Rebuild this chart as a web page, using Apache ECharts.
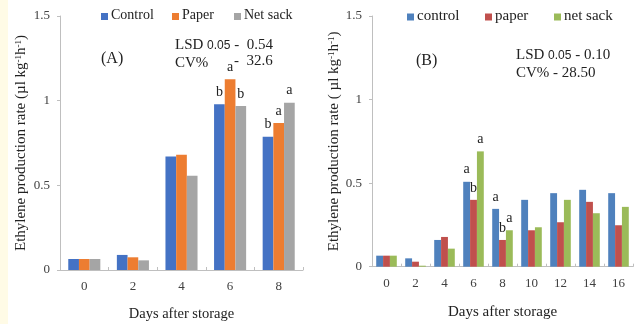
<!DOCTYPE html>
<html><head><meta charset="utf-8">
<script src="https://cdn.jsdelivr.net/npm/echarts@6/dist/echarts.min.js"></script>
<style>html,body{margin:0;padding:0;background:#fff}#c{width:638px;height:324px}</style>
</head><body><div id="c"></div>
<script>
const daysA = ['0','2','4','6','8'];
const controlA = [0.065,0.089,0.67,0.979,0.787];
const paperA   = [0.065,0.075,0.68,1.126,0.868];
const netA     = [0.065,0.057,0.557,0.969,0.988];
const lettersControlA = ['','','','b','b'];
const lettersPaperA   = ['','','','a','a'];
const lettersNetA     = ['','','','b','a'];

const daysB = ['0','2','4','6','8','10','12','14','16'];
const controlB = [0.066,0.05,0.16,0.508,0.346,0.40,0.44,0.46,0.44];
const paperB   = [0.066,0.03,0.178,0.40,0.16,0.218,0.266,0.388,0.248];
const netB     = [0.066,0.006,0.108,0.69,0.218,0.236,0.40,0.32,0.358];
const lettersControlB = ['','','','a','a','','','',''];
const lettersPaperB   = ['','','','b','b','','','',''];
const lettersNetB     = ['','','','a','a','','','',''];

const legendA = ['Control', 'Paper', 'Net sack'];
const legendB = ['control', 'paper', 'net sack'];
const colorsA = ['#4472C4', '#ED7D31', '#A5A5A5'];
const colorsB = ['#4F81BD', '#C0504D', '#9BBB59'];
const yTicks = [0, 0.5, 1, 1.5];

const SERIF = 'Liberation Serif';
const AX = '#BFBFBF';
const TXT = '#404040';

function withLetters(vals, letters) {
  return vals.map((v, i) => letters[i] ? {value: v, label: {show: true, formatter: letters[i]}} : v);
}
function yAxis(gi, gap) {
  return {
    type: 'value', gridIndex: gi, min: yTicks[0], max: yTicks[yTicks.length-1], interval: 0.5,
    axisLine: {show: true, lineStyle: {color: AX}},
    axisTick: {show: true, length: 3, lineStyle: {color: AX}},
    splitLine: {show: false},
    axisLabel: {fontFamily: SERIF, fontSize: 13, color: TXT, margin: 10, formatter: v => String(v)},
    name: gi === 0 ? 'Ethylene production rate (µl kg{sup|-1}h{sup|-1})' : 'Ethylene production rate ( µl kg{sup|-1}h{sup|-1})',
    nameLocation: 'middle', nameGap: gap, nameRotate: 90,
    nameTextStyle: {fontFamily: SERIF, fontSize: 15, color: '#222',
      rich: {sup: {fontFamily: SERIF, fontSize: 9, color: '#222', verticalAlign: 'top', lineHeight: 15}}}
  };
}
function xAxis(gi, data, gap, fs) {
  return {
    type: 'category', gridIndex: gi, data: data,
    axisLine: {show: true, lineStyle: {color: AX}},
    axisTick: {show: true, inside: true, length: 3, lineStyle: {color: AX}},
    axisLabel: {fontFamily: SERIF, fontSize: 13, color: TXT, margin: 10},
    name: 'Days after storage', nameLocation: 'middle', nameGap: gap,
    nameTextStyle: {fontFamily: SERIF, fontSize: fs, color: '#222'}
  };
}
const lbl = {show: false, position: 'top', distance: 5, fontFamily: SERIF, fontSize: 14, color: '#222'};
function bar(name, gi, vals, letters, color, gap) {
  return {
    name: name, type: 'bar', xAxisIndex: gi, yAxisIndex: gi,
    data: withLetters(vals, letters),
    itemStyle: {color: color}, barGap: '0%', barCategoryGap: gap,
    label: lbl, emphasis: {disabled: true}
  };
}
// legend: icon + serif text (legend component text would not take the serif face)
function legendGraphic(names, colors, xs, cy, fs) {
  const out = [];
  names.forEach((n, i) => {
    out.push({type: 'rect', left: xs[i], top: cy - 3.5, shape: {width: 7, height: 7}, style: {fill: colors[i]}, silent: true});
    out.push({type: 'text', left: xs[i] + 10, top: cy - fs / 2 - 1,
      style: {text: n, fontFamily: SERIF, fontSize: fs, fill: '#222'}, silent: true});
  });
  return out;
}

const chart = echarts.init(document.getElementById('c'), null, {renderer: 'canvas'});
chart.setOption({
  animation: false,
  backgroundColor: '#ffffff',
  textStyle: {fontFamily: SERIF},
  grid: [
    {left: 60, top: 16, width: 243, height: 254, outerBoundsMode: 'none', containLabel: false},
    {left: 372, top: 16, width: 261, height: 250.7, outerBoundsMode: 'none', containLabel: false}
  ],
  xAxis: [xAxis(0, daysA, 37, 14.5), xAxis(1, daysB, 38, 15)],
  yAxis: [yAxis(0, 31), yAxis(1, 28)],
  series: [
    bar(legendA[0], 0, controlA, lettersControlA, colorsA[0], '34%'),
    bar(legendA[1], 0, paperA, lettersPaperA, colorsA[1], '34%'),
    bar(legendA[2], 0, netA, lettersNetA, colorsA[2], '34%'),
    bar(legendB[0], 1, controlB, lettersControlB, colorsB[0], '29%'),
    bar(legendB[1], 1, paperB, lettersPaperB, colorsB[1], '29%'),
    bar(legendB[2], 1, netB, lettersNetB, colorsB[2], '29%')
  ],
  graphic: [
    {type: 'rect', left: 0, top: 0, shape: {width: 8, height: 324}, style: {fill: '#FFFBE6'}, silent: true},
    ...legendGraphic(legendA, colorsA, [101, 172, 234], 16.5, 14),
    ...legendGraphic(legendB, colorsB, [407, 485, 554], 17, 15),
    {type: 'text', left: 101, top: 51, style: {text: '(A)', fontFamily: SERIF, fontSize: 16, fill: '#222'}},
    {type: 'text', left: 175, top: 38, style: {text: '{s|LSD }{m|0.05}{s| -  0.54}', fontFamily: SERIF, fontSize: 15, fill: '#222',
      rich: {s: {fontFamily: SERIF, fontSize: 15, fill: '#222'}, m: {fontFamily: 'Liberation Sans', fontSize: 12, fill: '#222'}}}},
    {type: 'text', left: 175, top: 56, style: {text: 'CV%', fontFamily: SERIF, fontSize: 15, fill: '#222'}},
    {type: 'text', left: 234, top: 54, style: {text: '-  32.6', fontFamily: SERIF, fontSize: 15, fill: '#222'}},
    {type: 'text', left: 416, top: 53, style: {text: '(B)', fontFamily: SERIF, fontSize: 16, fill: '#222'}},
    {type: 'text', left: 516, top: 48, style: {text: '{s|LSD }{m|0.05}{s| - 0.10}', fontFamily: SERIF, fontSize: 15, fill: '#222',
      rich: {s: {fontFamily: SERIF, fontSize: 15, fill: '#222'}, m: {fontFamily: 'Liberation Sans', fontSize: 12, fill: '#222'}}}},
    {type: 'text', left: 516, top: 66, style: {text: 'CV% - 28.50', fontFamily: SERIF, fontSize: 15, fill: '#222'}}
  ]
});
</script></body></html>
